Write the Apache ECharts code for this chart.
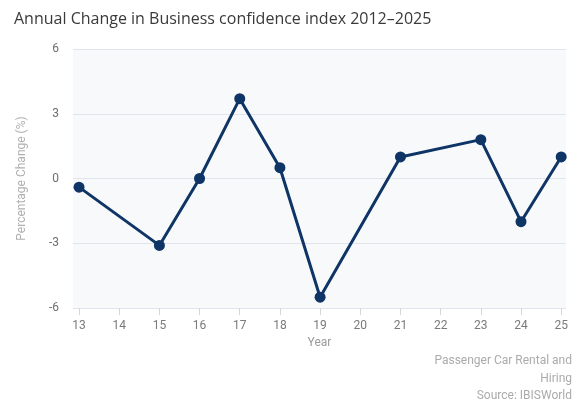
<!DOCTYPE html>
<html>
<head>
<meta charset="utf-8">
<script src="https://cdn.jsdelivr.net/npm/echarts@6/dist/echarts.min.js"></script>
<style>
  html, body { margin: 0; padding: 0; background: #ffffff; }
  #chart { width: 578px; height: 404px; }
</style>
</head>
<body>
<div id="chart"></div>
<script>
// Year labels shown along the x axis (two-digit years)
const yearTicks = [13, 14, 15, 16, 17, 18, 19, 20, 21, 22, 23, 24, 25];
// Years with a recorded value, and the annual percentage change for each
const years = [13, 15, 16, 17, 18, 19, 21, 23, 24, 25];
const changes = [-0.4, -3.1, 0.0, 3.7, 0.5, -5.5, 1.0, 1.8, -2.0, 1.0];
// Value axis ticks
const yTicks = [-6, -3, 0, 3, 6];
// Footer lines
const footerLines = ['Passenger Car Rental and', 'Hiring', 'Source: IBISWorld'];

const chart = echarts.init(document.getElementById('chart'), null, { renderer: 'canvas' });

const font = '"Open Sans", "Noto Sans", sans-serif';
const navy = '#0f3466';

chart.setOption({
  backgroundColor: '#ffffff',
  animation: false,
  title: {
    text: 'Annual Change in Business confidence index 2012\u20132025',
    left: 9,
    top: 6,
    textStyle: { fontFamily: font, fontSize: 16, fontWeight: 'normal', color: '#3a3a3a' }
  },
  graphic: footerLines.map((line, i) => ({
    type: 'text',
    right: 6,
    top: 355 + i * 17.5,
    style: {
      text: line,
      fontFamily: 'Roboto, sans-serif',
      fontSize: 12,
      fill: '#ababab'
    }
  })),
  grid: { left: 73, right: 12, top: 49, bottom: 96, containLabel: false,
          show: true, backgroundColor: '#f8f9fb', borderWidth: 0 },
  xAxis: {
    type: 'value',
    min: 12.85,
    max: 25.12,
    name: 'Year',
    nameLocation: 'middle',
    nameGap: 28,
    nameTextStyle: { fontFamily: 'Roboto, sans-serif', fontSize: 12, color: '#9a9a9a' },
    axisLine: { show: false, onZero: false },
    splitLine: { show: false },
    axisTick: { show: true, customValues: yearTicks, length: 7, lineStyle: { color: '#d6d6d6' } },
    axisLabel: { customValues: yearTicks, fontFamily: 'Roboto, sans-serif', fontSize: 12, color: '#7a7a7a', margin: 12 }
  },
  yAxis: {
    type: 'value',
    min: yTicks[0],
    max: yTicks[yTicks.length - 1],
    interval: 3,
    name: 'Percentage Change (%)',
    nameLocation: 'middle',
    nameGap: 45,
    nameRotate: 90,
    nameTextStyle: { fontFamily: 'Roboto, sans-serif', fontSize: 12, color: '#b0b0b0' },
    axisLine: { show: false },
    axisTick: { show: false },
    axisLabel: { fontFamily: 'Roboto, sans-serif', fontSize: 12, color: '#6e6e6e', margin: 14,
                 formatter: v => String(v) },
    splitLine: { show: true, lineStyle: { color: '#e2e4ec', width: 1 } }
  },
  series: [{
    type: 'line',
    data: years.map((y, i) => [y, changes[i]]),
    symbol: 'circle',
    symbolSize: 11,
    lineStyle: { color: navy, width: 3 },
    itemStyle: { color: navy },
    z: 3
  }]
});
</script>
</body>
</html>
